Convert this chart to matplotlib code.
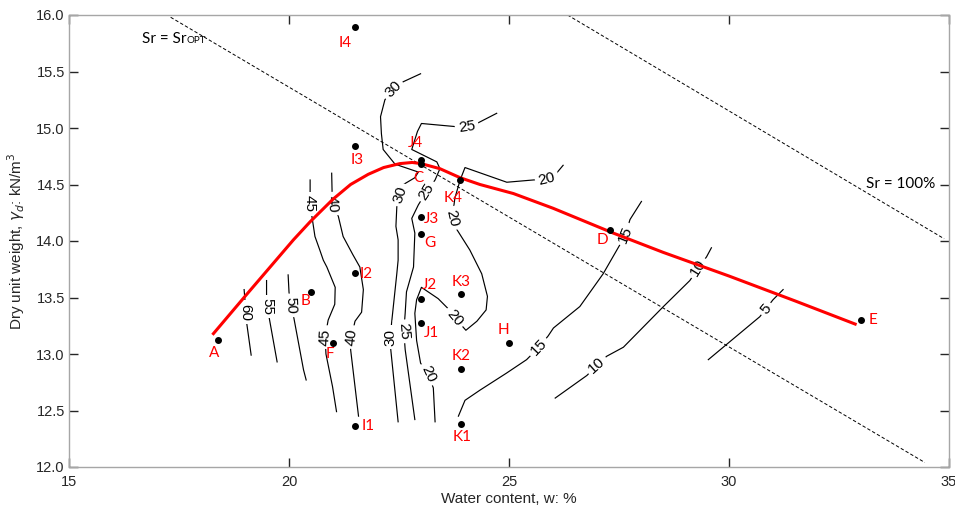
import matplotlib
matplotlib.use('Agg')
import matplotlib.pyplot as plt

# ---------------- data ----------------
point_names = ['A', 'B', 'C', 'D', 'E', 'F', 'G', 'H', 'I1', 'I2', 'I3', 'I4',
               'J1', 'J2', 'J3', 'J4', 'K1', 'K2', 'K3', 'K4']
point_w = [18.39, 20.49, 23.00, 27.30, 33.00, 21.00, 23.00, 25.00, 21.50, 21.50,
           21.50, 21.50, 23.00, 23.00, 23.00, 23.00, 23.92, 23.92, 23.92, 23.89]
point_gd = [13.12, 13.55, 14.68, 14.10, 13.30, 13.10, 14.06, 13.10, 12.36, 13.72,
            14.84, 15.89, 13.27, 13.49, 14.21, 14.72, 12.38, 12.87, 13.53, 14.54]

# compaction curve
curve_w = [18.26, 19.00, 19.66, 20.10, 20.48, 21.00, 21.40, 21.80, 22.15, 22.52,
           22.80, 23.00, 23.43, 23.89, 24.34, 25.10, 26.00, 27.37, 28.50, 30.00,
           31.50, 32.90]
curve_gd = [13.17, 13.51, 13.81, 14.01, 14.17, 14.37, 14.50, 14.59, 14.65, 14.685,
            14.695, 14.685, 14.64, 14.56, 14.50, 14.42, 14.29, 14.07, 13.90, 13.69,
            13.47, 13.26]

# saturation lines
sr_opt_w = [17.31, 34.45]
sr_opt_gd = [15.98, 12.04]
sr100_w = [26.33, 34.89]
sr100_gd = [16.00, 14.02]

# contour lines (value, polyline) and their labels (w, gd, angle)
c60_w = [18.98, 19.00, 19.02, 19.04, 19.14]
c60_gd = [13.57, 13.47, 13.37, 13.27, 12.99]
c60_lab = [(19.01, 13.37, -90)]

c55_w = [19.49, 19.49, 19.50, 19.55, 19.73]
c55_gd = [13.65, 13.52, 13.42, 13.32, 12.93]
c55_lab = [(19.50, 13.42, -90)]

c50_w = [19.98, 20.00, 20.03, 20.11, 20.33, 20.39]
c50_gd = [13.70, 13.55, 13.43, 13.32, 12.86, 12.77]
c50_lab = [(20.03, 13.43, -88)]

c45_w = [20.48, 20.48, 20.48, 20.52, 20.59, 20.70, 20.78, 20.86, 21.05, 21.04,
         20.89, 20.82, 20.84, 20.99, 21.08]
c45_gd = [14.54, 14.45, 14.33, 14.22, 14.04, 13.92, 13.83, 13.77, 13.59, 13.44,
          13.30, 13.15, 13.00, 12.71, 12.49]
c45_lab = [(20.48, 14.33, -90), (20.82, 13.15, 87)]

c40_w = [20.97, 20.98, 20.98, 21.12, 21.23, 21.45, 21.61, 21.69, 21.65, 21.50,
         21.42, 21.40, 21.58]
c40_gd = [14.60, 14.42, 14.33, 14.22, 14.04, 13.88, 13.77, 13.57, 13.37, 13.29,
          13.15, 13.04, 12.45]
c40_lab = [(20.98, 14.33, -86), (21.43, 13.15, 84)]

c30_w = [22.99, 22.60, 22.37, 22.18, 22.08, 22.10, 22.14, 22.41, 22.94, 22.86,
         22.60, 22.52, 22.45, 22.43, 22.48, 22.48, 22.45, 22.33, 22.31, 22.31, 22.48]
c30_gd = [15.48, 15.41, 15.34, 15.25, 15.10, 14.95, 14.81, 14.68, 14.61, 14.56,
          14.50, 14.41, 14.30, 14.13, 14.01, 13.83, 13.71, 13.27, 13.15, 13.05, 12.40]
c30_lab = [(22.37, 15.34, 46), (22.52, 14.41, 72), (22.31, 13.15, 90)]

c25_w = [24.72, 24.27, 24.04, 23.85, 23.01, 22.92, 22.79, 23.36, 23.43, 23.32,
         23.13, 22.94, 22.79, 22.86, 22.83, 22.67, 22.64, 22.61, 22.64, 22.86]
c25_gd = [15.13, 15.04, 15.00, 15.01, 15.04, 14.97, 14.81, 14.70, 14.64, 14.54,
          14.44, 14.32, 14.20, 14.07, 13.77, 13.55, 13.36, 13.20, 13.04, 12.42]
c25_lab = [(24.04, 15.01, 8), (23.13, 14.44, 58), (22.61, 13.20, -86)]

c20_w = [26.23, 26.08, 25.86, 25.55, 24.95, 24.00, 23.89, 23.77, 23.70, 23.85,
         24.11, 24.38, 24.51, 24.48, 24.27, 24.02, 23.75, 23.62, 23.39, 23.01,
         22.90, 22.86, 22.90, 22.99, 23.17, 23.28, 23.32]
c20_gd = [14.67, 14.60, 14.55, 14.54, 14.52, 14.65, 14.54, 14.38, 14.17, 14.08,
          13.92, 13.71, 13.51, 13.39, 13.29, 13.21, 13.33, 13.40, 13.49, 13.59,
          13.48, 13.36, 13.12, 12.92, 12.81, 12.70, 12.40]
c20_lab = [(25.86, 14.55, 14), (23.72, 14.20, -76), (23.76, 13.32, -50),
           (23.16, 12.82, -65)]

c15_w = [23.85, 24.00, 24.34, 24.94, 25.40, 25.68, 25.89, 26.01, 26.61, 27.14,
         27.51, 27.64, 27.75, 28.01]
c15_gd = [12.45, 12.59, 12.68, 12.83, 12.95, 13.06, 13.16, 13.23, 13.42, 13.71,
          13.96, 14.05, 14.19, 14.35]
c15_lab = [(25.67, 13.06, 46), (27.64, 14.06, 68)]

c10_w = [26.05, 26.77, 27.00, 27.22, 27.60, 28.51, 29.11, 29.30, 29.49, 29.60]
c10_gd = [12.61, 12.81, 12.90, 12.98, 13.06, 13.42, 13.65, 13.76, 13.86, 13.94]
c10_lab = [(27.00, 12.90, 42), (29.30, 13.76, 58)]

c5_w = [29.53, 30.70, 30.84, 31.00, 31.23]
c5_gd = [12.95, 13.33, 13.40, 13.48, 13.57]
c5_lab = [(30.84, 13.40, 50)]

contour_levels = [60, 55, 50, 45, 40, 30, 25, 20, 15, 10, 5]
contour_w = [c60_w, c55_w, c50_w, c45_w, c40_w, c30_w, c25_w, c20_w, c15_w, c10_w, c5_w]
contour_gd = [c60_gd, c55_gd, c50_gd, c45_gd, c40_gd, c30_gd, c25_gd, c20_gd,
              c15_gd, c10_gd, c5_gd]
contour_labs = [c60_lab, c55_lab, c50_lab, c45_lab, c40_lab, c30_lab, c25_lab,
                c20_lab, c15_lab, c10_lab, c5_lab]

x_ticks = [15, 20, 25, 30, 35]
y_ticks = [12.0, 12.5, 13.0, 13.5, 14.0, 14.5, 15.0, 15.5, 16.0]

# label offsets in pixels (layout)
label_offsets = {
    'A': (-4, -13), 'B': (-5, -9), 'C': (-3, -14), 'D': (-8, -10), 'E': (12, 0),
    'F': (-3, -11), 'G': (9, -9), 'H': (-6, 13), 'I1': (13, 0), 'I2': (11, -1),
    'I3': (2, -14), 'I4': (-10, -16), 'J1': (11, -10), 'J2': (9, 14),
    'J3': (10, -2), 'J4': (-5, 17), 'K1': (1, -13), 'K2': (0, 13), 'K3': (0, 12),
    'K4': (-7, -18),
}

# ---------------- plot ----------------
fig = plt.figure(figsize=(9.55, 5.09), dpi=100)
ax = fig.add_axes([69 / 955, 1 - 467 / 509, 880 / 955, 452 / 509])

tick_font = 'Liberation Sans'
lab_font = 'Lato'

# saturation lines
ax.plot(sr_opt_w, sr_opt_gd, color='black', lw=0.7, dashes=(3.5, 2.2), zorder=2)
ax.plot(sr100_w, sr100_gd, color='black', lw=0.7, dashes=(3.5, 2.2), zorder=2)

# contours
for lev, cw, cg, labs in zip(contour_levels, contour_w, contour_gd, contour_labs):
    ax.plot(cw, cg, color='black', lw=0.85, zorder=3)
    for (lw_, lg_, rot) in labs:
        ax.text(lw_, lg_, str(lev), rotation=rot, rotation_mode='anchor',
                ha='center', va='center', fontsize=11, family=tick_font,
                color='black', zorder=4,
                bbox=dict(boxstyle='square,pad=0.22', fc='white', ec='none'))

# compaction curve
ax.plot(curve_w, curve_gd, color='#ff0000', lw=2.2, zorder=6,
        solid_capstyle='butt', solid_joinstyle='round')

# sample points
ax.plot(point_w, point_gd, 'o', color='black', ms=4, zorder=7, ls='none')
for n, w, g in zip(point_names, point_w, point_gd):
    dx, dy = label_offsets[n]
    ax.annotate(n, (w, g), xytext=(dx, dy), textcoords='offset pixels',
                ha='center', va='center', color='#ff0000', fontsize=11,
                family=lab_font, zorder=8)

# saturation line texts
t1 = ax.text(16.66, 15.79, 'Sr = Sr', ha='left', va='center', fontsize=11,
             family=lab_font, color='black', zorder=5)
ax.annotate('OPT', xy=(1.0, 0.08), xycoords=t1, xytext=(0.3, 0),
            textcoords='offset points', ha='left', va='bottom', fontsize=7,
            family=lab_font, color='black')
ax.text(33.11, 14.50, 'Sr = 100%', ha='left', va='center', fontsize=11,
        family=lab_font, color='black', zorder=5)

# axes styling
ax.set_xlim(15, 35)
ax.set_ylim(12, 16)
ax.set_xticks(x_ticks)
ax.set_yticks(y_ticks)
ax.set_xticklabels([str(v) for v in x_ticks])
ax.set_yticklabels(['%.1f' % v for v in y_ticks])
ax.tick_params(direction='in', length=6.5, width=1.0, color='#262626',
               top=True, right=True, labelsize=10.5, labelcolor='#262626')
ax.tick_params(axis='x', pad=6)
ax.tick_params(axis='y', pad=3)
for lab in ax.get_xticklabels() + ax.get_yticklabels():
    lab.set_family(tick_font)
for s in ax.spines.values():
    s.set_color('#a6a6a6')
    s.set_linewidth(1.0)

ax.set_xlabel('Water content, w: %', fontsize=11, family=tick_font,
              color='#262626', labelpad=2)
ax.set_ylabel(r'Dry unit weight, $\gamma_d$: kN/m$^3$', fontsize=11,
              family=tick_font, color='#262626', labelpad=7)

fig.savefig('out.png', dpi=100)
